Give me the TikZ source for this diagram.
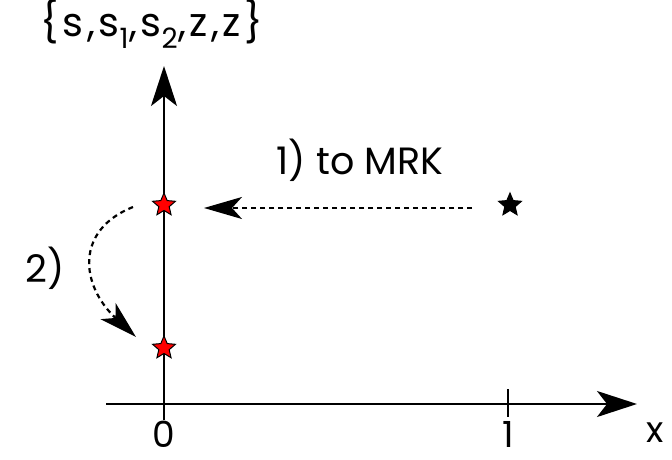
\documentclass[tikz,border=0pt]{standalone}
\usepackage{fontspec}
\setmainfont{Poppins}
\usetikzlibrary{arrows.meta,shapes.geometric}
\tikzset{
  axis/.style={line width=2.2pt,-{Stealth[length=40pt,width=26pt,inset=10pt]}},
  dotarrow/.style={line width=2.2pt,dash pattern=on 5pt off 4pt,-{Stealth[length=38pt,width=22pt,inset=10pt]}},
  tick/.style={line width=2.2pt},
  starmark/.style={star,star points=5,star point ratio=2.2,draw=black,line width=1pt,minimum size=24pt,inner sep=0pt},
  lbl/.style={font=\fontsize{38}{40}\selectfont,inner sep=0pt},
  numlbl/.style={font=\fontsize{36}{38}\selectfont,inner sep=0pt,anchor=base,text depth=0pt}
}
\begin{document}
\begin{tikzpicture}[x=1pt,y=-1pt]
\useasboundingbox (0,0) rectangle (672,460);
\coordinate (xs) at (106,404);
\coordinate (xe) at (637,404);
\coordinate (ys) at (164,420);
\coordinate (ye) at (164,66);
\draw[axis] (xs) -- (xe);
\draw[axis] (ys) -- (ye);
\coordinate (t1a) at (508,389);
\coordinate (t1b) at (508,417);
\draw[tick] (t1a) -- (t1b);
\node[lbl,font=\fontsize{40}{42}\selectfont\addfontfeature{LetterSpace=9}] (ylab) at (152,24) {\{s,s\textsubscript{1},s\textsubscript{2},z,z\}};
\node[numlbl] (zero) at (164,447) {0};
\node[numlbl] (one) at (508,447) {1};
\node[numlbl] (xlab) at (655,442) {x};
\node[starmark,fill=red] (s1) at (164,205) {};
\node[starmark,fill=red] (s2) at (164,348) {};
\node[starmark,fill=black] (s0) at (510,205) {};
\coordinate (a1s) at (472,208);
\coordinate (a1e) at (204,208);
\draw[dotarrow] (a1s) -- (a1e);
\node[lbl] (l1) at (360,160) {1) to MRK};
\coordinate (a2s) at (133,207);
\coordinate (a2e) at (136,337);
\draw[dotarrow] (a2s) .. controls (75,230) and (80,285) .. (a2e);
\node[lbl] (l2) at (45,268) {2)};
\end{tikzpicture}
\end{document}
